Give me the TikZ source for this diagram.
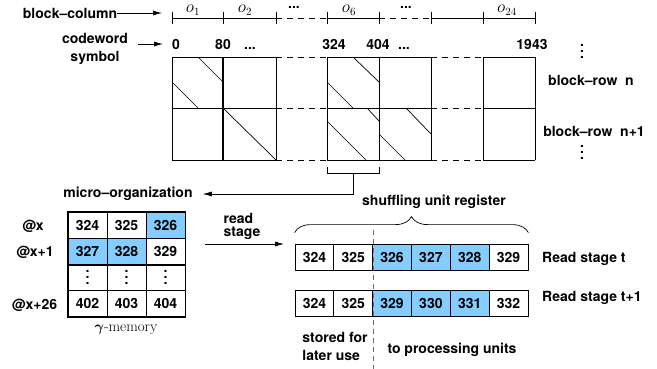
\documentclass[tikz,border=0pt]{standalone}
\usepackage{amsmath}
\usepackage{fontspec}
\setsansfont{TeX Gyre Heros}
\usetikzlibrary{positioning, arrows.meta, decorations.pathreplacing, calc}
\definecolor{CellBlue}{RGB}{133, 204, 255}
\definecolor{DashGray}{RGB}{110, 110, 110}
\newcommand{\coldots}{\vbox{\baselineskip6pt\lineskiplimit0pt\hbox{.}\hbox{.}\hbox{.}}}

\begin{document}
\begin{tikzpicture}[x=1pt, y=-1pt,
    txt/.style={font=\sffamily\bfseries\fontsize{14}{16}\selectfont, inner sep=0pt},
    cell/.style={txt, draw, line width=0.8pt, minimum width=38.8pt, minimum height=26pt},
    arr/.style={-{Latex[length=9pt,width=5pt]}, line width=0.7pt},
    grid/.style={line width=0.7pt},
    gap/.style={grid, dash pattern=on 6pt off 5pt}]
    \useasboundingbox (0,0) rectangle (657,369);

    % block-column ruler
    \node[txt] (bcol) at (70,13) {block--column};
    \coordinate (bcend) at (162,13);
    \draw[arr] (bcol.east) -- (bcend);
    \foreach \xa/\xb in {172/276, 327/379, 431/535} \draw[grid] (\xa,18) -- (\xb,18);
    \foreach \xa/\xb in {276/327, 379/431} \draw[gap] (\xa,18) -- (\xb,18);
    \foreach \x in {172,223,276,327,379,431,483,535} \draw[grid] (\x,12) -- (\x,24);
    \foreach \x/\k in {193/1, 245/2, 349/6, 507/24}
      \node[font=\fontsize{16}{18}\selectfont, inner sep=0pt] (o\k) at (\x,10) {$o_{\k}$};
    \node[txt, anchor=base] (dotsa) at (294,9) {...};
    \node[txt, anchor=base] (dotsb) at (406,9) {...};

    % codeword symbols
    \node[txt, align=center, font=\sffamily\bfseries\fontsize{14}{18}\selectfont] (cw) at (95,49) {codeword\\symbol};
    \node[txt, anchor=base] (n0) at (176,50) {0};
    \node[txt, anchor=base] (n80) at (223,50) {80};
    \node[txt, anchor=base] (dotsc) at (250,50) {...};
    \node[txt, anchor=base] (n324) at (334,50) {324};
    \node[txt, anchor=base] (n404) at (378,50) {404};
    \node[txt, anchor=base] (dotsd) at (404,50) {...};
    \node[txt, anchor=base] (n1943) at (532,50) {1943};
    \coordinate (cwend) at (163,44);
    \coordinate (cwstart) at (138,44);
    \draw[arr] (cwstart) -- (cwend);

    % block matrix
    \foreach \y in {57,108,160} {
      \foreach \xa/\xb in {172/276, 327/431, 483/535} \draw[grid] (\xa,\y) -- (\xb,\y);
      \foreach \xa/\xb in {276/327, 431/483} \draw[gap] (\xa,\y) -- (\xb,\y);
    }
    \foreach \x in {172,276,327,379,431,483,535} \draw[grid] (\x,57) -- (\x,160);
    \draw[line width=1.5pt] (223,57) -- (223,160);

    % shifted identities
    \foreach \xa/\ya/\xb/\yb in {198/57/223/82, 172/82/198/108, 223/108/276/160,
        353/57/379/82, 327/82/353/108, 367/108/379/121, 327/121/366/160,
        406/108/431/134, 379/134/405/160}
      \draw[grid] (\xa,\ya) -- (\xb,\yb);

    \node[txt] (brn) at (591,80) {block--row\ \ n};
    \node[txt] (brn1) at (594,131) {block--row\ \ n+1};
    \node[txt] (vda) at (582,51) {\coldots};
    \node[txt] (vdb) at (582,152) {\coldots};

    % micro-organization
    \draw[grid] (327,167) -- (327,173) -- (379,173) -- (379,167);
    \coordinate (brmid) at (353,173);
    \node[txt] (micro) at (128,194) {micro--organization};
    \draw[arr] (brmid) |- ([xshift=10pt]micro.east);

    % gamma-memory
    \foreach \v/\c [count=\i] in {324/white, 325/white, 326/CellBlue}
      \node[cell, fill=\c] (ma\i) at ({48.5+39*\i},225) {\v};
    \foreach \v/\c [count=\i] in {327/CellBlue, 328/CellBlue, 329/white}
      \node[cell, fill=\c] (mb\i) at ({48.5+39*\i},251.5) {\v};
    \foreach \i in {1,2,3}
      \node[cell, minimum height=25pt] (mc\i) at ({48.5+39*\i},277.5) {\coldots};
    \foreach \v [count=\i] in {402, 403, 404}
      \node[cell] (md\i) at ({48.5+39*\i},303.5) {\v};
    \draw[line width=1.4pt] (ma1.north west) rectangle (md3.south east);
    \node[txt] (lx) at (33,226) {@x};
    \node[txt] (lx1) at (35,252) {@x+1};
    \node[txt] (lx26) at (34.5,305) {@x+26};
    \node[font=\fontsize{15}{17}\selectfont, inner sep=0pt] (gmem) at (126,330) {$\boldsymbol{\gamma}$-memory};

    % read stage
    \node[txt, align=left, font=\sffamily\bfseries\fontsize{14}{13}\selectfont] (rs) at (242,226) {read\\stage};
    \coordinate (rsa) at (205,244);
    \coordinate (rsb) at (284,244);
    \draw[arr] (rsa) -- (rsb);

    % shuffling unit register
    \foreach \v/\c [count=\i] in {324/white, 325/white, 326/CellBlue, 327/CellBlue, 328/CellBlue, 329/white}
      \node[cell, fill=\c] (ra\i) at ({275.6+38.83*\i},257) {\v};
    \foreach \v/\c [count=\i] in {324/white, 325/white, 329/CellBlue, 330/CellBlue, 331/CellBlue, 332/white}
      \node[cell, fill=\c] (rb\i) at ({275.6+38.83*\i},303) {\v};
    \draw[DashGray, line width=1pt, dash pattern=on 5pt off 4pt] (373,230) -- (373,369);
    \draw[decorate, decoration={brace, amplitude=16pt}, line width=0.7pt]
      ([yshift=11pt]ra1.north west) -- ([yshift=11pt]ra6.north east);
    \node[txt] (sur) at (434,202) {shuffling unit register};
    \node[txt, anchor=west] (rst) at (542,259) {Read stage t};
    \node[txt, anchor=west] (rst1) at (542,298) {Read stage t+1};
    \node[txt, align=left, font=\sffamily\bfseries\fontsize{14}{18}\selectfont] (stored) at (335,346) {stored for\\later use};
    \node[txt] (proc) at (452,350) {to processing units};
  \end{tikzpicture}
\end{document}
